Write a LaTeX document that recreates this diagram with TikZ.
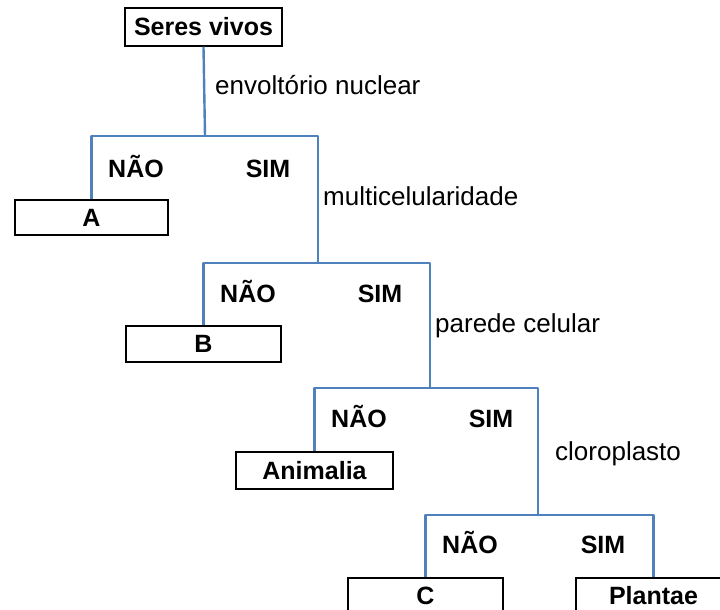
\documentclass[tikz,border=0pt]{standalone}
\usepackage{fontspec}
\setmainfont{Liberation Sans}
\usepackage{xcolor}
\usetikzlibrary{shadows}
\definecolor{branchblue}{RGB}{79,129,189}

\begin{document}
\begin{tikzpicture}[x=1pt, y=-1pt,
        taxon/.style = {draw, line width=1.4pt, fill=white, inner sep=0pt,
            minimum width=155pt, minimum height=36pt,
            drop shadow={shadow xshift=0.4pt, shadow yshift=-1.4pt, opacity=1, fill=black},
            font=\bfseries\fontsize{25}{28}\selectfont},
        branch/.style = {color=branchblue, line width=2.4pt, line join=round},
        answer/.style = {anchor=base, inner sep=0pt, font=\bfseries\fontsize{25}{28}\selectfont},
        trait/.style = {anchor=base west, inner sep=0pt, font=\fontsize{26}{29}\selectfont}]
        \useasboundingbox (0, 0) rectangle (720, 610);
        \clip (0, 0) rectangle (720, 610);

        % taxa
        \node[taxon, minimum width=157pt, minimum height=38pt] (root) at (203.5, 27) {Seres vivos};
        \node[taxon, minimum width=153pt, minimum height=35pt] (A) at (91.5, 217.5) {A};
        \node[taxon] (B) at (203.5, 344) {B};
        \node[taxon, minimum width=157pt, minimum height=37pt] (animalia) at (314.5, 470.5) {Animalia};
        \node[taxon] (C) at (425.5, 596) {C};
        \node[taxon] (plantae) at (653.5, 596) {Plantae};

        % junctions
        \coordinate (j1) at (205, 136);
        \coordinate (s1) at (318, 136);
        \coordinate (j2) at (318, 263);
        \coordinate (s2) at (430, 263);
        \coordinate (j3) at (430, 388);
        \coordinate (s3) at (538, 388);
        \coordinate (j4) at (538, 515);

        \draw[branch] (root.south) -- (j1);
        \draw[branch] (A.north) |- (s1) -- (j2);
        \draw[branch] (B.north) |- (s2) -- (j3);
        \draw[branch] (animalia.north) |- (s3) -- (j4);
        \draw[branch] (C.north) |- (j4) -| (plantae.north);

        % characters
        \node[trait] (t1) at (215, 95) {envoltório nuclear};
        \node[trait] (t2) at (323, 205) {multicelularidade};
        \node[trait] (t3) at (435, 332) {parede celular};
        \node[trait] (t4) at (555, 460) {cloroplasto};

        % answers
        \node[answer] (n1) at (136, 177) {NÃO};
        \node[answer] (y1) at (268, 177) {SIM};
        \node[answer] (n2) at (248, 302) {NÃO};
        \node[answer] (y2) at (380, 302) {SIM};
        \node[answer] (n3) at (359, 427) {NÃO};
        \node[answer] (y3) at (491, 427) {SIM};
        \node[answer] (n4) at (470, 553) {NÃO};
        \node[answer] (y4) at (603, 553) {SIM};
    \end{tikzpicture}
\end{document}
